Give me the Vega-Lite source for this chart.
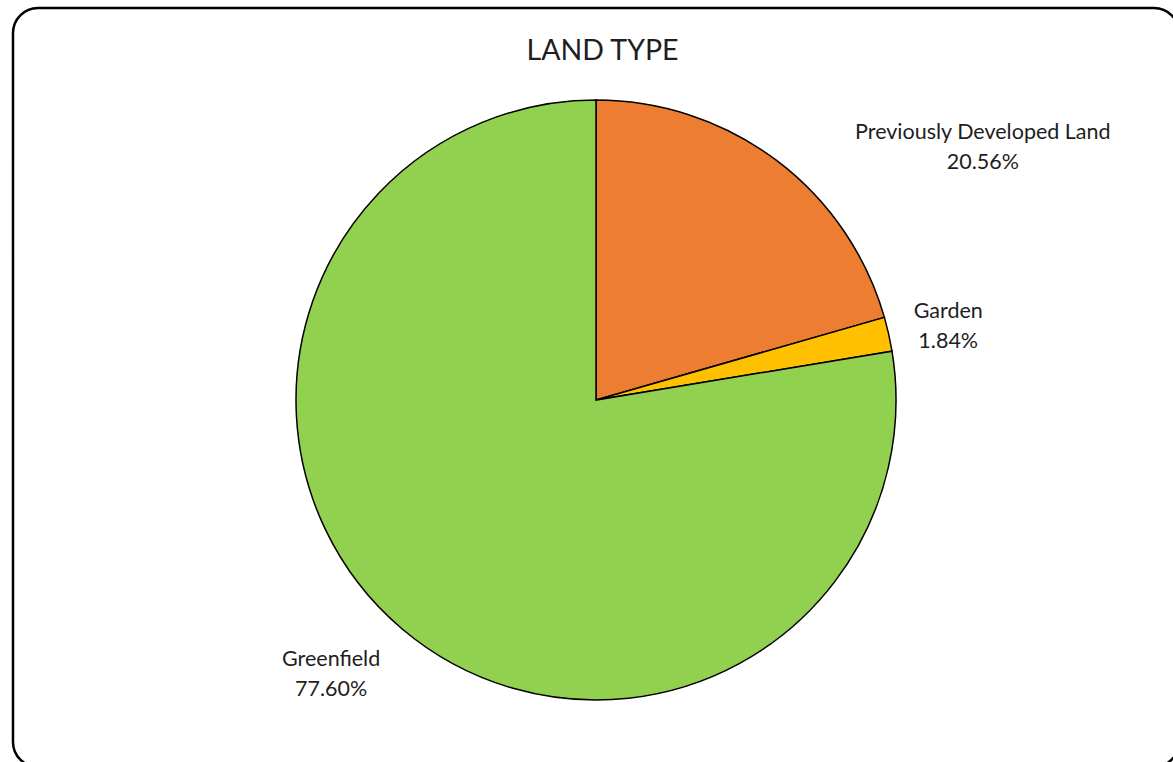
{
  "$schema": "https://vega.github.io/schema/vega-lite/v6.json",
  "width": 1166,
  "height": 759,
  "autosize": "none",
  "padding": {"left": 13, "top": 8, "right": 0, "bottom": 0},
  "background": "white",
  "view": {"stroke": "#000000", "strokeWidth": 2.5, "cornerRadius": 25, "fill": "white"},
  "title": {
    "text": "LAND TYPE",
    "font": "Lato",
    "fontSize": 28.5,
    "fontWeight": "normal",
    "color": "#1e1e1e",
    "anchor": "middle",
    "baseline": "alphabetic",
    "dx": 6.5,
    "dy": 84
  },
  "data": {
    "values": [
      {"type": "Previously Developed Land", "value": 20.56, "order": 1},
      {"type": "Garden", "value": 1.84, "order": 2},
      {"type": "Greenfield", "value": 77.60, "order": 3}
    ]
  },
  "transform": [
    {"calculate": "datum.type + '\\n' + format(datum.value, '.2f') + '%'", "as": "label"}
  ],
  "encoding": {
    "theta": {"field": "value", "type": "quantitative", "stack": true},
    "order": {"field": "order", "type": "quantitative"}
  },
  "layer": [
    {
      "mark": {"type": "arc", "outerRadius": 300, "stroke": "#000000", "strokeWidth": 1.5, "x": {"expr": "width/2"}, "y": {"expr": "height/2 + 12.5"}},
      "encoding": {
        "color": {
          "field": "type", "type": "nominal",
          "scale": {"domain": ["Previously Developed Land", "Garden", "Greenfield"], "range": ["#ED7D31", "#FFC000", "#92D050"]},
          "legend": null
        }
      }
    },
    {
      "mark": {"type": "text", "font": "Lato", "fontSize": 21.5, "color": "#1e1e1e", "lineBreak": "\n", "lineHeight": 30, "align": "center", "baseline": "middle", "radius": 435, "dx": 125, "dy": 80, "x": {"expr": "width/2"}, "y": {"expr": "height/2 + 12.5"}},
      "encoding": {
        "text": {"condition": {"test": "datum.type === 'Previously Developed Land'", "field": "label"}, "value": ""}
      }
    },
    {
      "mark": {"type": "text", "font": "Lato", "fontSize": 21.5, "color": "#1e1e1e", "lineBreak": "\n", "lineHeight": 30, "align": "center", "baseline": "middle", "radius": 360, "dx": 1, "dy": -9, "x": {"expr": "width/2"}, "y": {"expr": "height/2 + 12.5"}},
      "encoding": {
        "text": {"condition": {"test": "datum.type === 'Garden'", "field": "label"}, "value": ""}
      }
    },
    {
      "mark": {"type": "text", "font": "Lato", "fontSize": 21.5, "color": "#1e1e1e", "lineBreak": "\n", "lineHeight": 30, "align": "center", "baseline": "middle", "radius": 380, "dx": -19, "dy": -30, "x": {"expr": "width/2"}, "y": {"expr": "height/2 + 12.5"}},
      "encoding": {
        "text": {"condition": {"test": "datum.type === 'Greenfield'", "field": "label"}, "value": ""}
      }
    }
  ]
}
